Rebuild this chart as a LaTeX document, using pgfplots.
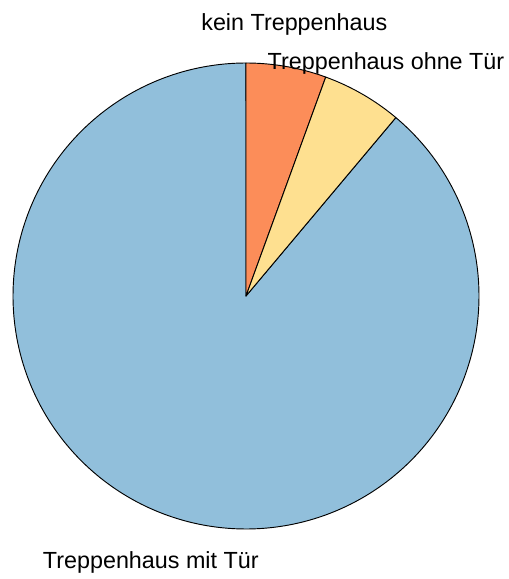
\documentclass[border=0pt]{standalone}
\usepackage{pgfplots}
\usepackage{pgfplotstable}
\pgfplotsset{compat=1.18}
\usepackage{fontspec}
\setmainfont{Liberation Sans}
\definecolor{cOrange}{HTML}{FC8D59}
\definecolor{cYellow}{HTML}{FEE090}
\definecolor{cBlue}{HTML}{91BFDB}
\pgfplotstableread{
label value
kein 5.56
ohne 5.56
mit 88.88
}\piedata
\pgfplotstablegetelem{0}{value}\of\piedata \let\va\pgfplotsretval
\pgfplotstablegetelem{1}{value}\of\piedata \let\vb\pgfplotsretval
\pgfplotstablegetelem{2}{value}\of\piedata \let\vc\pgfplotsretval
\pgfmathsetmacro{\tot}{\va+\vb+\vc}
\pgfmathsetmacro{\aA}{90}
\pgfmathsetmacro{\aB}{90-\va/\tot*360}
\pgfmathsetmacro{\aC}{\aB-\vb/\tot*360}
\pgfmathsetmacro{\aD}{\aC-\vc/\tot*360}
\begin{document}
\begin{tikzpicture}
\begin{axis}[
  width=381pt, height=434.25pt, scale only axis,
  xmin=-246, xmax=262, ymin=-283, ymax=296,
  hide axis, clip=false,
]
\path (rel axis cs:0,0) rectangle (rel axis cs:1,1);
\addplot[fill=cBlue, draw=black, line width=0.7pt, domain=\aD:\aC, samples=300, line join=round] ({233*cos(x)},{233*sin(x)}) -- (axis cs:0,0) -- cycle;
\addplot[fill=cOrange, draw=black, line width=0.7pt, domain=\aB:\aA, samples=40, line join=round] ({233*cos(x)},{233*sin(x)}) -- (axis cs:0,0) -- cycle;
\addplot[fill=cYellow, draw=black, line width=0.7pt, domain=\aC:\aB, samples=40, line join=round] ({233*cos(x)},{233*sin(x)}) -- (axis cs:0,0) -- cycle;
\node[anchor=base, font=\fontsize{17.5}{20}\selectfont, inner sep=0pt] at (axis cs:48.3,265) {kein Treppenhaus};
\node[anchor=base, font=\fontsize{17.5}{20}\selectfont, inner sep=0pt] at (axis cs:140,226) {Treppenhaus ohne Tür};
\node[anchor=base, font=\fontsize{17.5}{20}\selectfont, inner sep=0pt] at (axis cs:-95.2,-272) {Treppenhaus mit Tür};
\end{axis}
\end{tikzpicture}
\end{document}
